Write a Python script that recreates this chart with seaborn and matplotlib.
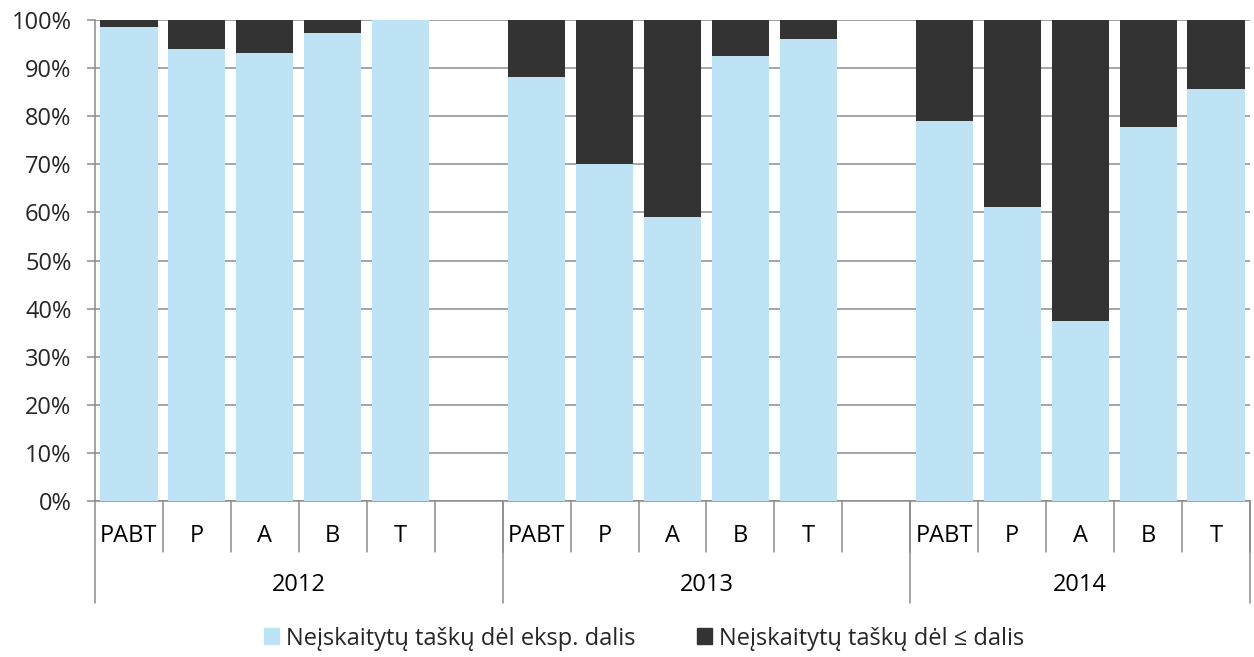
import numpy as np
import pandas as pd
import seaborn as sns
import matplotlib.pyplot as plt
import matplotlib.transforms as mtransforms

years = ["2012", "2013", "2014"]
cats = ["PABT", "P", "A", "B", "T"]

# share (%) of the light series, the dark series fills the rest up to 100%
exp_2012 = [98.5, 94.0, 93.1, 97.2, 99.9]
exp_2013 = [88.1, 70.1, 59.0, 92.5, 96.0]
exp_2014 = [78.9, 61.2, 37.4, 77.8, 85.6]

label_exp = "Neįskaitytų taškų dėl eksp. dalis"
label_le = "Neįskaitytų taškų dėl ≤ dalis"

light = "#BEE3F5"
dark = "#333333"
grid_c = "#8C8C8C"

rows = []
order = []
for yr, vals in zip(years, [exp_2012, exp_2013, exp_2014]):
    for c, v in zip(cats, vals):
        slot = yr + "-" + c
        order.append(slot)
        rows.append({"slot": slot, "cat": c, "year": yr, "exp": v, "total": 100.0})
    if yr != years[-1]:
        order.append(yr + "-gap")
df = pd.DataFrame(rows)

sns.set_style("white")
plt.rcParams["font.family"] = ["Open Sans", "DejaVu Sans"]
fs = 17

fig = plt.figure(figsize=(12.54, 6.57), dpi=100)
ax = fig.add_axes([95 / 1254, 1 - 501 / 657, 1155 / 1254, 481 / 657])

sns.barplot(data=df, x="slot", y="total", order=order, color=dark, saturation=1,
            width=0.84, errorbar=None, linewidth=0, ax=ax, zorder=2)
sns.barplot(data=df, x="slot", y="exp", order=order, color=light, saturation=1,
            width=0.84, errorbar=None, linewidth=0, ax=ax, zorder=3)

n = len(order)
ax.set_xlim(-0.5, n - 0.5)
ax.set_ylim(0, 100)
ax.set_yticks(np.arange(0, 101, 10))
ax.set_yticklabels([f"{t}%" for t in range(0, 101, 10)], fontsize=fs)
ax.yaxis.grid(True, color=grid_c, linewidth=1.1)
ax.set_axisbelow(True)
ax.tick_params(axis="y", length=6, width=1.1, color=grid_c, left=True, pad=11)
ax.set_xticks([])
ax.set_xlabel("")
ax.set_ylabel("")
for s in ["top", "right"]:
    ax.spines[s].set_visible(False)
for s in ["left", "bottom"]:
    ax.spines[s].set_color(grid_c)
    ax.spines[s].set_linewidth(1.1)

# hierarchical category axis
trans = mtransforms.blended_transform_factory(ax.transData, ax.transAxes)
cat_depth = -51 / 481
year_depth = -102 / 481
for i, slot in enumerate(order):
    ax.plot([i + 0.5, i + 0.5], [0, cat_depth], transform=trans, color=grid_c,
            lw=1.1, clip_on=False)
    if not slot.endswith("gap"):
        ax.text(i, -35 / 481, slot.split("-")[1], transform=trans, ha="center",
                va="center", fontsize=fs, color="black")

starts = [0]
for i, slot in enumerate(order):
    if slot.endswith("gap"):
        starts.append(i + 1)
bounds = starts + [n]
for b in bounds:
    ax.plot([b - 0.5, b - 0.5], [0, year_depth], transform=trans, color=grid_c,
            lw=1.1, clip_on=False)
for yr, a, b in zip(years, bounds[:-1], bounds[1:]):
    ax.text((a + b) / 2 - 0.5, -84 / 481, yr, transform=trans, ha="center",
            va="center", fontsize=fs, color="black")

handles = [plt.Rectangle((0, 0), 1, 1, color=light), plt.Rectangle((0, 0), 1, 1, color=dark)]
fig.legend(handles, [label_exp, label_le], loc="center", bbox_to_anchor=(0.5136, 0.028),
           ncol=2, frameon=False, fontsize=fs, handlelength=0.65, handleheight=0.65,
           handletextpad=0.3, columnspacing=2.6)

fig.savefig("out.png", dpi=100)
